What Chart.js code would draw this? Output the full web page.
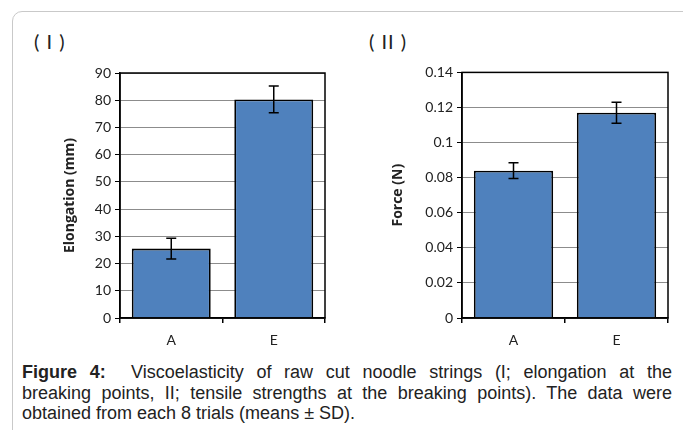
<!DOCTYPE html>
<html>
<head>
<meta charset="utf-8">
<script src="https://cdn.jsdelivr.net/npm/chart.js@4.4.0/dist/chart.umd.min.js"></script>
<style>
  body { margin: 0; background: #fff; width: 683px; height: 430px; overflow: hidden; position: relative; font-family: Lato, sans-serif; }
  .frame { position: absolute; left: 12px; top: 11px; width: 720px; height: 500px; border: 1px solid #c9c9c9; border-radius: 10px; }
  .panel { position: absolute; font-size: 20px; letter-spacing: 1px; color: #222; }
  .box { position: absolute; top: 60px; width: 300px; height: 290px; }
  .caption { position: absolute; left: 22px; top: 362px; width: 650px; font-family: "Liberation Sans", Arial, sans-serif; font-size: 18px; line-height: 20.5px; color: #222; }
  .caption .j { text-align: justify; text-align-last: justify; white-space: nowrap; }
</style>
</head>
<body>
<div class="frame"></div>
<div class="panel" style="left:34px;top:29px;">(&nbsp;I&nbsp;)</div>
<div class="panel" style="left:369px;top:29px;">(&nbsp;II&nbsp;)</div>
<div class="box" style="left:40px;"><canvas id="chart1"></canvas></div>
<div class="box" style="left:380px;"><canvas id="chart2"></canvas></div>
<div class="caption">
  <div class="j"><b>Figure 4:</b>&nbsp; Viscoelasticity of raw cut noodle strings (I; elongation at the</div>
  <div class="j">breaking points, II; tensile strengths at the breaking points). The data were</div>
  <div>obtained from each 8 trials (means ± SD).</div>
</div>
<script>
// data
var categories = ["A", "E"];
var elongation = [25.5, 80.3];
var elongationSD = [3.8, 4.9];
var force = [0.084, 0.117];
var forceSD = [0.0045, 0.006];

// error bars + plot frame
var extras = {
  id: 'extras',
  afterDatasetsDraw: function(chart) {
    var ctx = chart.ctx;
    var y = chart.scales.y;
    var sd = chart.options.plugins.extras.sd;
    var meta = chart.getDatasetMeta(0);
    var vals = chart.data.datasets[0].data;
    ctx.save();
    ctx.strokeStyle = '#000';
    ctx.lineWidth = 1.5;
    meta.data.forEach(function(bar, i) {
      var top = y.getPixelForValue(vals[i] + sd[i]);
      var bot = y.getPixelForValue(vals[i] - sd[i]);
      ctx.beginPath();
      ctx.moveTo(bar.x, top); ctx.lineTo(bar.x, bot);
      ctx.moveTo(bar.x - 5, top); ctx.lineTo(bar.x + 5, top);
      ctx.moveTo(bar.x - 5, bot); ctx.lineTo(bar.x + 5, bot);
      ctx.stroke();
    });
    var a = chart.chartArea;
    ctx.lineWidth = 1.5;
    ctx.strokeRect(a.left, a.top, a.right - a.left, a.bottom - a.top);
    ctx.restore();
  }
};

function makeChart(id, values, sd, max, step, title, pad, yWidth, decimals) {
  return new Chart(document.getElementById(id), {
    type: 'bar',
    data: {
      labels: categories,
      datasets: [{
        data: values,
        backgroundColor: '#4F81BD',
        borderColor: '#000',
        borderWidth: 1.8,
        barPercentage: 0.77,
        categoryPercentage: 1
      }]
    },
    options: {
      responsive: true,
      maintainAspectRatio: false,
      animation: false,
      layout: { padding: pad },
      plugins: {
        legend: { display: false },
        tooltip: { enabled: false },
        extras: { sd: sd }
      },
      scales: {
        x: {
          grid: { drawOnChartArea: false, offset: true, tickLength: 5, color: '#000', lineWidth: 1.5 },
          border: { color: '#000', width: 1.5 },
          ticks: { color: '#222', font: { family: 'Lato', size: 14 }, padding: 9 },
          afterFit: function(s) { s.height = 32; }
        },
        y: {
          min: 0, max: max,
          grid: { color: '#8c8c8c', lineWidth: 1, tickLength: 5, tickColor: '#000' },
          border: { color: '#000', width: 1.5 },
          ticks: {
            stepSize: step, color: '#222', padding: 4,
            font: { family: 'Lato', size: 14 },
            callback: function(v) { return decimals ? parseFloat(v.toFixed(2)).toString() : v; }
          },
          title: { display: true, text: title, color: '#222', font: { family: 'Open Sans', size: 14, weight: 'bold' }, padding: { top: 0, bottom: 2 } },
          afterFit: function(s) { s.width = yWidth; }
        }
      }
    },
    plugins: [extras]
  });
}

makeChart('chart1', elongation, elongationSD, 90, 10, 'Elongation (mm)', { top: 13, right: 15, left: 22 }, 58, false);
makeChart('chart2', force, forceSD, 0.14, 0.02, 'Force (N)', { top: 11, right: 12, left: 10 }, 72, true);
</script>
</body>
</html>
